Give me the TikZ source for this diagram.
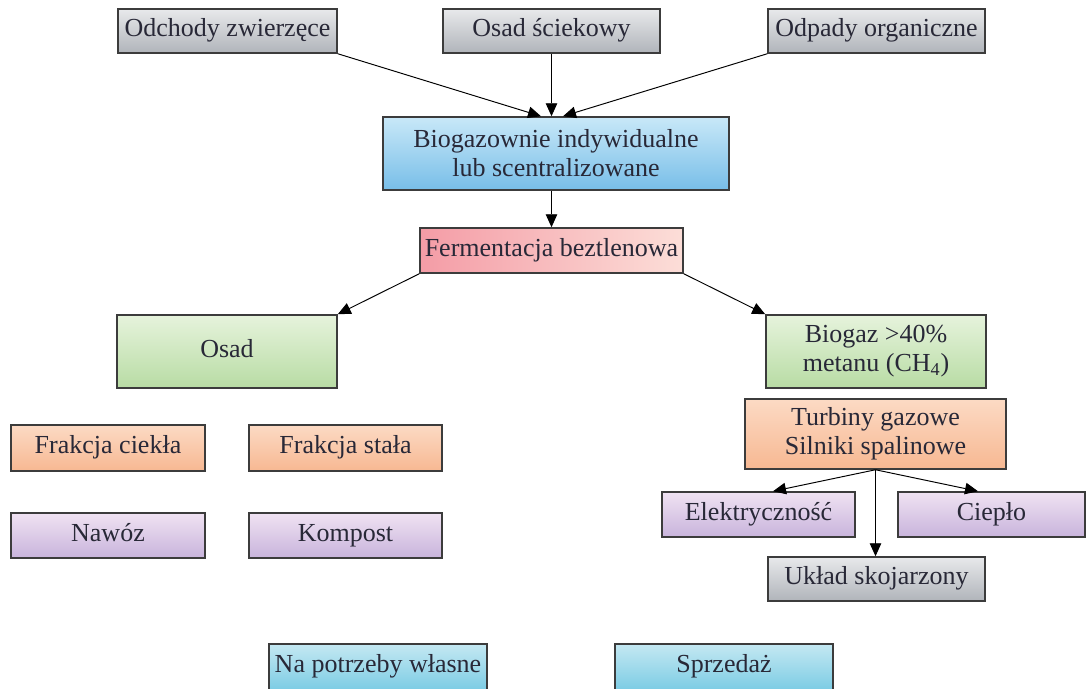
\documentclass[tikz,border=0pt]{standalone}
\usepackage{fontspec}
\setmainfont{Liberation Serif}
\usepackage{tikz}
\usetikzlibrary{positioning,arrows.meta,calc}

\definecolor{txt}{RGB}{40,40,55}
\definecolor{edge}{RGB}{60,60,60}
\definecolor{grT}{RGB}{232,233,235}\definecolor{grB}{RGB}{176,180,186}
\definecolor{blT}{RGB}{200,232,248}\definecolor{blB}{RGB}{120,190,232}
\definecolor{pkL}{RGB}{244,156,166}\definecolor{pkR}{RGB}{252,222,216}
\definecolor{gnT}{RGB}{230,243,220}\definecolor{gnB}{RGB}{184,220,164}
\definecolor{orT}{RGB}{252,218,196}\definecolor{orB}{RGB}{247,184,146}
\definecolor{puT}{RGB}{240,226,242}\definecolor{puB}{RGB}{200,180,220}
\definecolor{cyT}{RGB}{196,232,242}\definecolor{cyB}{RGB}{124,204,228}

\begin{document}
\begin{tikzpicture}[bx/.style={draw=edge,line width=0.85pt,inner sep=0pt,align=center,text=txt,
    font=\fontsize{14.8}{16.5}\selectfont},
  ln/.style={text height=0.88em,text depth=0.22em},
  gr/.style={bx,top color=grT,bottom color=grB},
  bl/.style={bx,top color=blT,bottom color=blB},
  pk/.style={bx,left color=pkL,right color=pkR},
  gn/.style={bx,top color=gnT,bottom color=gnB},
  og/.style={bx,top color=orT,bottom color=orB},
  pu/.style={bx,top color=puT,bottom color=puB},
  cy/.style={bx,top color=cyT,bottom color=cyB},
  ar/.style={draw=black,line width=0.55pt,-{Triangle[length=2.6mm,width=2.3mm]}}]
\useasboundingbox (0,0) rectangle (21.72,13.76);
% sources
\node[gr,ln, minimum width=4.38cm, minimum height=0.88cm] (odchody) at (4.55,13.14) {Odchody zwierzęce};
\node[gr,ln, minimum width=4.34cm, minimum height=0.88cm] (osadsciek) at (11.03,13.14) {Osad ściekowy};
\node[gr,ln, minimum width=4.34cm, minimum height=0.88cm] (odpady) at (17.53,13.14) {Odpady organiczne};
% plant
\node[bl, minimum width=6.92cm, minimum height=1.46cm] (bio) at (11.12,10.69) {Biogazownie indywidualne\\lub scentralizowane};
\node[pk,ln, minimum width=5.26cm, minimum height=0.9cm] (ferment) at (11.03,8.75) {Fermentacja beztlenowa};
% products
\node[gn,ln, minimum width=4.4cm, minimum height=1.46cm] (osad) at (4.54,6.73) {Osad};
\node[gn, minimum width=4.4cm, minimum height=1.46cm] (biogaz) at (17.52,6.73) {Biogaz >40\%\\metanu (CH\textsubscript{4})};
\node[og, minimum width=5.22cm, minimum height=1.4cm] (turbiny) at (17.51,5.08) {Turbiny gazowe\\Silniki spalinowe};
\node[og,ln, minimum width=3.88cm, minimum height=0.92cm] (ciekla) at (2.16,4.8) {Frakcja ciekła};
\node[og,ln, minimum width=3.86cm, minimum height=0.92cm] (stala) at (6.91,4.8) {Frakcja stała};
\node[pu,ln, minimum width=3.88cm, minimum height=0.9cm] (nawoz) at (2.16,3.05) {Nawóz};
\node[pu,ln, minimum width=3.86cm, minimum height=0.9cm] (kompost) at (6.91,3.05) {Kompost};
\node[pu,ln, minimum width=3.86cm, minimum height=0.9cm] (elektr) at (15.17,3.47) {Elektryczność};
\node[pu,ln, minimum width=3.74cm, minimum height=0.9cm] (cieplo) at (19.83,3.47) {Ciepło};
\node[gr,ln, minimum width=4.34cm, minimum height=0.88cm] (uklad) at (17.53,2.18) {Układ skojarzony};
\node[cy,ln, minimum width=4.36cm, minimum height=0.92cm] (wlasne) at (7.56,0.42) {Na potrzeby własne};
\node[cy,ln, minimum width=4.36cm, minimum height=0.92cm] (sprzedaz) at (14.48,0.42) {Sprzedaż};
% arrows
\draw[ar] (odchody.south east) -- ([xshift=-0.3cm]bio.north);
\draw[ar] (osadsciek.south) -- (osadsciek.south |- bio.north);
\draw[ar] (odpady.south west) -- ([xshift=0.14cm]bio.north);
\draw[ar] (ferment.north |- bio.south) -- (ferment.north);
\draw[ar] (ferment.south west) -- (osad.north east);
\draw[ar] (ferment.south east) -- (biogaz.north west);
\draw[ar] (turbiny.south) -- ([xshift=0.29cm]elektr.north);
\draw[ar] (turbiny.south) -- ([xshift=-0.27cm]cieplo.north);
\draw[ar] (turbiny.south) -- (turbiny.south |- uklad.north);
\end{tikzpicture}
\end{document}
